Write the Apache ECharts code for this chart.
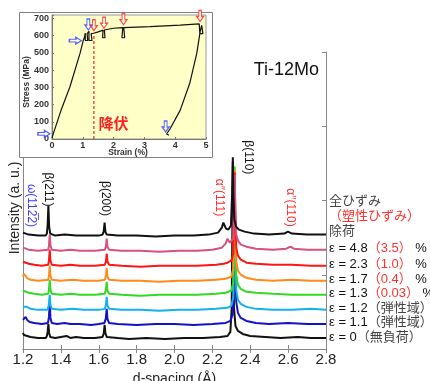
<!DOCTYPE html>
<html lang="ja">
<head>
<meta charset="UTF-8" />
<title>Ti-12Mo</title>
<script src="https://cdn.jsdelivr.net/npm/echarts@6/dist/echarts.min.js"></script>
<style>html,body{margin:0;padding:0;background:#fff}</style>
</head>
<body>
<div id="main" style="width:430px;height:381px"></div>
<script>
// 回折プロファイル [d-spacing, 相対強度]  下から順
var prof0 = [[1.200,5],[1.205,3],[1.215,2],[1.24,1],[1.28,0],[1.32,0],[1.326,2],[1.330,6],[1.334,14],[1.338,5],[1.344,1],[1.37,0],[1.40,1],[1.43,2],[1.45,0],[1.48,1],[1.52,0],[1.58,0],[1.620,1],[1.626,4],[1.631,13],[1.635,5],[1.642,1],[1.70,0],[1.76,-1],[1.85,0],[1.95,-1],[2.05,0],[2.15,0],[2.24,1],[2.280,2],[2.295,6],[2.302,30],[2.306,120],[2.308,176],[2.310,110],[2.314,30],[2.322,12],[2.335,7],[2.36,4],[2.40,2],[2.48,1],[2.56,0],[2.65,1],[2.72,0],[2.80,0]];
var prof1 = [[1.200,4],[1.206,5],[1.214,7],[1.222,4],[1.235,2],[1.26,1],[1.30,0],[1.332,1],[1.337,7],[1.341,21],[1.345,6],[1.352,1],[1.38,0],[1.42,1],[1.45,0],[1.50,0],[1.56,-1],[1.60,0],[1.630,1],[1.637,5],[1.642,15],[1.646,5],[1.654,1],[1.70,0],[1.80,-1],[1.90,0],[2.00,0],[2.10,-1],[2.20,0],[2.27,1],[2.295,3],[2.308,10],[2.314,60],[2.318,140],[2.321,70],[2.326,22],[2.335,11],[2.35,6],[2.38,3],[2.43,1],[2.50,0],[2.60,1],[2.70,0],[2.80,0]];
var prof2 = [[1.200,3],[1.21,4],[1.22,3],[1.24,1],[1.28,0],[1.33,0],[1.336,5],[1.341,15],[1.345,5],[1.352,1],[1.40,0],[1.46,1],[1.52,0],[1.60,0],[1.632,1],[1.638,5],[1.642,13],[1.646,4],[1.655,1],[1.72,0],[1.82,0],[1.92,-1],[2.02,0],[2.12,0],[2.22,1],[2.28,2],[2.300,4],[2.310,12],[2.314,60],[2.318,131],[2.321,65],[2.326,20],[2.335,10],[2.35,6],[2.38,3],[2.43,1],[2.52,0],[2.62,0],[2.72,1],[2.80,0]];
var prof3 = [[1.200,4],[1.21,3],[1.23,2],[1.26,1],[1.30,0],[1.333,1],[1.337,5],[1.341,15],[1.345,5],[1.352,1],[1.40,0],[1.45,1],[1.50,0],[1.58,0],[1.632,1],[1.638,5],[1.642,13],[1.646,4],[1.655,1],[1.72,0],[1.82,-1],[1.92,0],[2.02,0],[2.12,0],[2.22,1],[2.27,2],[2.300,4],[2.310,12],[2.314,60],[2.318,128],[2.321,65],[2.326,20],[2.335,10],[2.35,6],[2.38,3],[2.43,2],[2.52,1],[2.62,0],[2.72,0],[2.80,0]];
var prof4 = [[1.200,4],[1.205,7],[1.212,6],[1.22,3],[1.24,1],[1.28,0],[1.333,1],[1.337,5],[1.341,15],[1.345,5],[1.352,1],[1.40,0],[1.46,1],[1.52,0],[1.60,0],[1.632,1],[1.638,5],[1.642,13],[1.646,4],[1.655,1],[1.72,0],[1.82,0],[1.92,-1],[2.02,0],[2.12,0],[2.22,1],[2.27,2],[2.300,4],[2.310,12],[2.314,55],[2.318,111],[2.321,58],[2.326,20],[2.335,10],[2.35,6],[2.38,3],[2.43,1],[2.52,0],[2.62,1],[2.72,0],[2.80,0]];
var prof5 = [[1.200,4],[1.21,3],[1.23,2],[1.26,1],[1.30,0],[1.333,1],[1.337,5],[1.341,16],[1.345,5],[1.352,1],[1.40,0],[1.45,1],[1.50,0],[1.58,0],[1.632,1],[1.638,4],[1.642,12],[1.646,4],[1.655,1],[1.72,0],[1.82,-1],[1.92,0],[2.02,0],[2.12,0],[2.22,1],[2.26,2],[2.28,3],[2.300,5],[2.310,12],[2.314,50],[2.318,93],[2.321,50],[2.326,18],[2.335,10],[2.35,6],[2.38,3],[2.43,2],[2.52,1],[2.62,1],[2.72,0],[2.80,0]];
var prof6 = [[1.200,3],[1.21,2],[1.23,1],[1.28,0],[1.333,1],[1.337,5],[1.341,16],[1.345,5],[1.352,1],[1.40,0],[1.45,1],[1.50,0],[1.58,0],[1.632,1],[1.638,4],[1.642,12],[1.646,4],[1.655,1],[1.72,0],[1.82,0],[1.92,-1],[2.02,0],[2.12,0],[2.20,1],[2.25,3],[2.270,7],[2.280,12],[2.285,13],[2.292,8],[2.300,7],[2.310,12],[2.314,40],[2.318,76],[2.321,42],[2.326,16],[2.335,10],[2.35,6],[2.38,4],[2.43,2],[2.52,1],[2.59,2],[2.613,4],[2.63,2],[2.70,1],[2.80,1]];
var prof7 = [[1.200,3],[1.21,2],[1.23,1],[1.28,0],[1.32,0],[1.326,2],[1.330,10],[1.334,30],[1.338,9],[1.344,2],[1.37,0],[1.42,1],[1.48,0],[1.55,0],[1.60,0],[1.620,1],[1.626,4],[1.631,13],[1.635,4],[1.642,1],[1.70,0],[1.80,0],[1.90,-1],[2.00,0],[2.10,0],[2.18,1],[2.23,3],[2.250,8],[2.258,13],[2.264,12],[2.272,7],[2.285,6],[2.298,10],[2.304,40],[2.308,78],[2.311,40],[2.316,16],[2.325,9],[2.34,6],[2.37,4],[2.42,2],[2.50,1],[2.58,2],[2.599,4],[2.62,2],[2.70,1],[2.80,1]];

var profiles = [prof0, prof1, prof2, prof3, prof4, prof5, prof6, prof7];
var offsets = [11, 25, 39, 54, 68, 83, 98, 113];
var traceColors = ['#111111', '#1212c8', '#12b2ee', '#33d822', '#ff8a1e', '#ff1414', '#d8507e', '#111111'];
var endLabels = [
    '{k|ε = 0}{g|（無負荷）}',
    '{k|ε = 1.1}{g|（弾性域）}',
    '{k|ε = 1.2}{g|（弾性域）}',
    '{k|ε = 1.3}{r|（0.03）}{k| %}',
    '{k|ε = 1.7}{r|（0.4）}{k| %}',
    '{k|ε = 2.3}{r|（1.0）}{k| %}',
    '{k|ε = 4.8}{r|（3.5）}{k| %}',
    '{g|全ひずみ}\n{r|（塑性ひずみ）}\n{g|除荷}'
];

// ピーク名 [d, 強度]
var peakTags = [
    { text: 'β(211)', d: 1.334, y: 159, color: '#111' },
    { text: 'β(200)', d: 1.634, y: 150, color: '#111' },
    { text: 'β(110)', d: 2.388, y: 191, color: '#111' },
    { text: 'α″(111)', d: 2.238, y: 151, color: '#ff2a2a' },
    { text: 'α″(110)', d: 2.609, y: 141, color: '#ff2a2a' },
    { text: 'ω(112\u03052)', d: 1.242, y: 143, color: '#3a3aff' }
];

// 応力-ひずみ曲線 [strain %, stress MPa]
var stressCurve = [[0.00,5],[0.04,30],[0.29,165],[0.58,302],[0.91,497],[1.02,575],[1.05,590],[1.08,615],[1.10,625],[1.08,572],[1.16,572],[1.14,612],[1.20,625],[1.22,615],[1.20,572],[1.30,572],[1.27,612],[1.35,614],[1.50,622],[1.66,632],[1.64,588],[1.72,588],[1.70,633],[1.99,643],[2.30,647],[2.27,588],[2.36,588],[2.33,647],[3.18,653],[4.16,661],[4.78,668],[4.82,672],[4.80,612],[4.90,612],[4.86,660],[4.81,623],[4.70,497],[4.47,322],[4.16,166],[3.83,58],[3.72,29],[3.68,22],[3.80,22]];
var yieldLine = [[1.36, 0], [1.36, 617]];
var blueRight = [[-0.26, 30], [0.76, 571]];
var blueDown = [[1.18, 665], [3.69, 73]];
var redDown = [[1.36, 661], [1.69, 675], [2.32, 695], [4.81, 714]];

var font = "'Liberation Sans', 'Noto Sans CJK JP', sans-serif";
var arrowDown = 'path://M3,0L7,0L7,6L10,6L5,11L0,6L3,6Z';
var arrowRight = 'path://M0,3L6,3L6,0L11,5L6,10L6,7L0,7Z';

var chart = echarts.init(document.getElementById('main'));

var traceSeries = profiles.map(function (p, i) {
    return {
        type: 'line',
        xAxisIndex: 0,
        yAxisIndex: 0,
        showSymbol: false,
        silent: true,
        data: p.map(function (pt) { return [pt[0], pt[1] + offsets[i]]; }),
        lineStyle: { color: traceColors[i], width: 2 },
        itemStyle: { color: traceColors[i] },
        endLabel: {
            show: true,
            formatter: endLabels[i],
            distance: 3,
            offset: i === 7 ? [0, -18] : [0, -1],
            rich: {
                k: { fontSize: 13, color: '#111', fontFamily: font, lineHeight: 15 },
                g: { fontSize: 13, color: '#444', fontFamily: font, lineHeight: 15 },
                r: { fontSize: 13, color: '#ff3030', fontFamily: font, lineHeight: 15 }
            }
        }
    };
});

var arrowStyle = function (c) {
    return { color: '#fff', borderColor: c, borderWidth: 1.2 };
};

var option = {
    animation: false,
    grid: [
        { left: 23, top: 52, right: 104, bottom: 32, outerBoundsMode: 'none', containLabel: false },
        { left: 52, top: 15, width: 154, height: 124, outerBoundsMode: 'none', containLabel: false }
    ],
    xAxis: [
        {
            gridIndex: 0, type: 'value', min: 1.2, max: 2.8, interval: 0.2,
            axisLine: { lineStyle: { color: '#888' } },
            axisTick: { inside: true, length: 4, lineStyle: { color: '#888' } },
            splitLine: { show: false },
            axisLabel: { color: '#222', fontSize: 15, margin: 3, fontFamily: font,
                formatter: function (v) { return v.toFixed(1); } },
            name: 'd-spacing (Å)', nameLocation: 'middle', nameGap: 19,
            nameTextStyle: { color: '#222', fontSize: 14, fontFamily: font }
        },
        {
            gridIndex: 0, type: 'value', position: 'top', min: 1.2, max: 2.8, interval: 0.2,
            axisLine: { lineStyle: { color: '#888' } },
            axisTick: { inside: true, length: 4, lineStyle: { color: '#888' } },
            splitLine: { show: false },
            axisLabel: { show: false }
        },
        {
            gridIndex: 1, type: 'value', min: 0, max: 5, interval: 1, z: 10,
            axisLine: { lineStyle: { color: '#777' } },
            axisTick: { inside: true, length: 2, lineStyle: { color: '#777' } },
            splitLine: { show: false },
            axisLabel: { color: '#333', fontSize: 9, margin: 2, fontFamily: font, fontWeight: 'bold' }
        }
    ],
    yAxis: [
        {
            gridIndex: 0, type: 'value', min: 0, max: 296, interval: 74,
            axisLine: { show: true, lineStyle: { color: '#888' } },
            axisTick: { show: false },
            splitLine: { show: false },
            axisLabel: { show: false }
        },
        {
            gridIndex: 0, type: 'value', position: 'right', min: 0, max: 296, interval: 74,
            axisLine: { show: true, lineStyle: { color: '#888' } },
            axisTick: { show: true, inside: true, length: 4, lineStyle: { color: '#888' } },
            splitLine: { show: false },
            axisLabel: { show: false }
        },
        {
            gridIndex: 1, type: 'value', min: 0, max: 720, interval: 100, z: 10,
            axisLine: { show: true, lineStyle: { color: '#777' } },
            axisTick: { show: true, inside: true, length: 2, lineStyle: { color: '#777' } },
            splitLine: { show: false },
            axisLabel: { color: '#333', fontSize: 9, margin: 3, fontFamily: font, fontWeight: 'bold',
                formatter: function (v) { return v % 100 === 0 ? v : ''; } }
        }
    ],
    series: traceSeries.concat([
        {
            type: 'line', xAxisIndex: 2, yAxisIndex: 2, z: 11, showSymbol: false, silent: true,
            data: stressCurve, lineStyle: { color: '#111', width: 1.2 }
        },
        {
            type: 'line', xAxisIndex: 2, yAxisIndex: 2, z: 11, showSymbol: false, silent: true,
            data: yieldLine, lineStyle: { color: '#ff2020', width: 1.2, type: [3, 2] }
        },
        {
            type: 'scatter', xAxisIndex: 2, yAxisIndex: 2, z: 12, clip: false, silent: true,
            data: blueRight, symbol: arrowRight, symbolSize: [12, 7], itemStyle: arrowStyle('#2a3cff')
        },
        {
            type: 'scatter', xAxisIndex: 2, yAxisIndex: 2, z: 12, clip: false, silent: true,
            data: blueDown, symbol: arrowDown, symbolSize: [7, 11], itemStyle: arrowStyle('#2a3cff')
        },
        {
            type: 'scatter', xAxisIndex: 2, yAxisIndex: 2, z: 12, clip: false, silent: true,
            data: redDown, symbol: arrowDown, symbolSize: [7, 11], itemStyle: arrowStyle('#ff2020')
        }
    ])
};

chart.setOption(option);

function txt(text, x, y, opts) {
    return {
        type: 'text', x: x, y: y, z: opts.z || 12, rotation: opts.rotation || 0, silent: true,
        style: {
            text: text, fill: opts.color || '#111', fontSize: opts.size || 13,
            fontFamily: font, fontWeight: opts.weight || 'normal',
            align: opts.align || 'center', verticalAlign: 'middle'
        }
    };
}

var elements = [
    { type: 'rect', z: 5, silent: true, shape: { x: 19.5, y: 12.5, width: 193, height: 145 },
      style: { fill: '#fff', stroke: '#808080', lineWidth: 1 } },
    { type: 'rect', z: 6, silent: true, shape: { x: 52, y: 15, width: 154, height: 124 },
      style: { fill: '#ffffc8', stroke: '#999', lineWidth: 1 } },
    txt('Ti-12Mo', 319, 70, { size: 18, align: 'right' }),
    txt('Intensity (a. u.)', 15, 208, { size: 14, rotation: Math.PI / 2, color: '#222' }),
    txt('Stress (MPa)', 27, 82, { size: 8.5, rotation: Math.PI / 2, color: '#333', weight: 'bold' }),
    txt('Strain (%)', 128, 153, { size: 8.5, color: '#333', weight: 'bold' })
];

var yp = chart.convertToPixel({ gridIndex: 1 }, [2.0, 82]);
elements.push(txt('降伏', yp[0], yp[1], { size: 15, weight: 'bold', color: '#ff2020' }));

peakTags.forEach(function (t) {
    var p = chart.convertToPixel({ gridIndex: 0 }, [t.d, t.y]);
    elements.push(txt(t.text, p[0], p[1], { size: 12, rotation: -Math.PI / 2, color: t.color }));
});

chart.setOption({ graphic: { elements: elements } });
</script>
</body>
</html>
